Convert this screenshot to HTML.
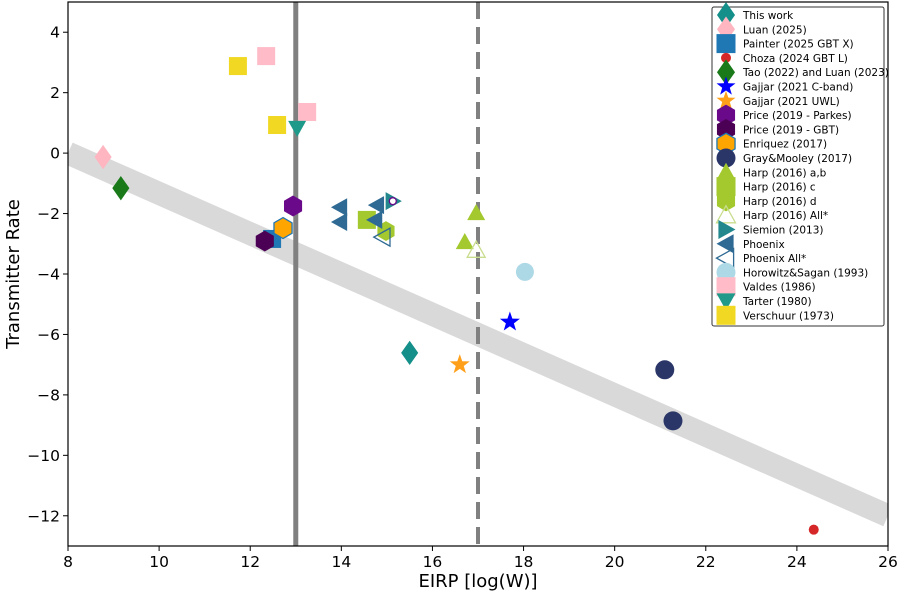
<!DOCTYPE html>
<html><head><meta charset="utf-8"><style>
body{margin:0;background:#fff;font-family:"Liberation Sans","DejaVu Sans",sans-serif}
svg text{font-family:"DejaVu Sans","Liberation Sans",sans-serif}
</style></head><body>
<svg id="chart" width="900" height="594" xmlns="http://www.w3.org/2000/svg"></svg>
<script>
const xTicks=[8,10,12,14,16,18,20,22,24,26];
const yTicks=[4,2,0,-2,-4,-6,-8,-10,-12];
const thisWorkX=[15.5], thisWorkY=[-6.61];
const luanX=[8.77], luanY=[-0.13];
const painterX=[12.48], painterY=[-2.84];
const chozaX=[24.37], chozaY=[-12.46];
const taoX=[9.16], taoY=[-1.16];
const gajjarCX=[17.7], gajjarCY=[-5.59];
const gajjarUX=[16.6], gajjarUY=[-7.0];
const priceParkesX=[12.94], priceParkesY=[-1.75];
const priceGbtX=[12.32], priceGbtY=[-2.91];
const enriquezX=[12.72], enriquezY=[-2.48];
const grayX=[21.1,21.28], grayY=[-7.17,-8.86];
const harpAbX=[16.96,16.71], harpAbY=[-1.98,-2.94];
const harpCX=[14.56], harpCY=[-2.21];
const harpDX=[14.98], harpDY=[-2.58];
const harpAllX=[16.96], harpAllY=[-3.21];
const siemionX=[15.13], siemionY=[-1.59];
const phoenixX=[13.97,13.97,14.78,14.74], phoenixY=[-1.79,-2.28,-1.72,-2.21];
const phoenixAllX=[14.91], phoenixAllY=[-2.78];
const horowitzX=[18.03], horowitzY=[-3.93];
const valdesX=[12.35,13.25], valdesY=[3.21,1.36];
const tarterX=[13.03], tarterY=[0.83];
const verschuurX=[11.73,12.59], verschuurY=[2.88,0.93];
const fitX=[8,26], fitY=[0.0,-12.0];
const vlineX=[13,17];

const L=68,R=888,T=2,B=546,XMIN=8,XMAX=26,YMIN=-13,YMAX=5;
const sx=v=>L+(v-XMIN)/(XMAX-XMIN)*(R-L);
const sy=v=>B-(v-YMIN)/(YMAX-YMIN)*(B-T);
const svg=document.getElementById('chart');
const NS='http://www.w3.org/2000/svg';
function el(tag,attrs,parent){const e=document.createElementNS(NS,tag);for(const k in attrs)e.setAttribute(k,attrs[k]);(parent||svg).appendChild(e);return e;}

const defs=el('defs',{});const cp=el('clipPath',{id:'clip'},defs);el('rect',{x:L,y:T,width:R-L,height:B-T},cp);
const plot=el('g',{'clip-path':'url(#clip)'});



const band=el('line',{x1:sx(fitX[0]),y1:sy(fitY[0]),x2:sx(fitX[1]),y2:sy(fitY[1]),stroke:'#d9d9d9',"stroke-width":23},plot);


const v1=el('line',{x1:sx(vlineX[0]),y1:T,x2:sx(vlineX[0]),y2:B,stroke:'#808080','stroke-width':5},plot);


const v2=el('line',{x1:sx(vlineX[1]),y1:T,x2:sx(vlineX[1]),y2:B,stroke:'#808080','stroke-width':4,'stroke-dasharray':'17,8'},plot);



function shape(type,cx,cy,s,fill,stroke,parent){
  const h=s/2;let p;
  const poly=pts=>el('polygon',{points:pts.map(q=>q.join(',')).join(' '),fill:fill,stroke:stroke||'none','stroke-width':1.3},parent);
  if(type==='diamond')p=poly([[cx,cy-h*1.35],[cx+h*0.95,cy],[cx,cy+h*1.35],[cx-h*0.95,cy]]);
  else if(type==='square')p=el('rect',{x:cx-h,y:cy-h,width:s,height:s,fill:fill,stroke:stroke||'none'},parent);
  else if(type==='circle')p=el('circle',{cx:cx,cy:cy,r:h,fill:fill,stroke:stroke||'none','stroke-width':1.3},parent);
  else if(type==='star'){const pts=[];for(let i=0;i<10;i++){const r=i%2?h*0.42:h*1.05;const a=-Math.PI/2+i*Math.PI/5;pts.push([cx+r*Math.cos(a),cy+r*Math.sin(a)]);}p=poly(pts);}
  else if(type==='hex'){const pts=[];for(let i=0;i<6;i++){const a=-Math.PI/2+i*Math.PI/3;pts.push([cx+h*1.1*Math.cos(a),cy+h*1.1*Math.sin(a)]);}p=poly(pts);}
  else if(type==='tup')p=poly([[cx,cy-h],[cx+h,cy+h*0.8],[cx-h,cy+h*0.8]]);
  else if(type==='tdown')p=poly([[cx,cy+h],[cx+h,cy-h*0.8],[cx-h,cy-h*0.8]]);
  else if(type==='tleft')p=poly([[cx-h,cy],[cx+h*0.8,cy-h],[cx+h*0.8,cy+h]]);
  else if(type==='tright')p=poly([[cx+h,cy],[cx-h*0.8,cy-h],[cx-h*0.8,cy+h]]);
  return p;
}
const series=[
 ['this-work','This work',thisWorkX,thisWorkY,'diamond',18,'#148f8a',null],
 ['luan-2025','Luan (2025)',luanX,luanY,'diamond',18,'#ffb6c1',null],
 ['painter','Painter (2025 GBT X)',painterX,painterY,'square',18,'#1f77b4',null],
 ['choza','Choza (2024 GBT L)',chozaX,chozaY,'circle',10,'#d62728',null],
 ['tao-luan','Tao (2022) and Luan (2023)',taoX,taoY,'diamond',18,'#1a7a1a',null],
 ['gajjar-c','Gajjar (2021 C-band)',gajjarCX,gajjarCY,'star',20,'#0000ff',null],
 ['gajjar-uwl','Gajjar (2021 UWL)',gajjarUX,gajjarUY,'star',20,'#ff9f1a',null],
 ['price-parkes','Price (2019 - Parkes)',priceParkesX,priceParkesY,'hex',19,'#6a0a8a',null],
 ['price-gbt','Price (2019 - GBT)',priceGbtX,priceGbtY,'hex',19,'#4b0055',null],
 ['enriquez','Enriquez (2017)',enriquezX,enriquezY,'hex',19,'#ffa500','#1f77b4'],
 ['gray-mooley','Gray&Mooley (2017)',grayX,grayY,'circle',19,'#2b3668',null],
 ['harp-ab','Harp (2016) a,b',harpAbX,harpAbY,'tup',18,'#a3c92e',null],
 ['harp-c','Harp (2016) c',harpCX,harpCY,'square',18,'#a3c92e',null],
 ['harp-d','Harp (2016) d',harpDX,harpDY,'hex',18,'#a3c92e',null],
 ['harp-all','Harp (2016) All*',harpAllX,harpAllY,'tup',18,'none','#c9dd8f'],
 ['siemion','Siemion (2013)',siemionX,siemionY,'tright',18,'#23878e',null],
 ['phoenix','Phoenix',phoenixX,phoenixY,'tleft',18,'#2e6a93',null],
 ['phoenix-all','Phoenix All*',phoenixAllX,phoenixAllY,'tleft',18,'none','#2e6a93'],
 ['horowitz-sagan','Horowitz&Sagan (1993)',horowitzX,horowitzY,'circle',18,'#add8e6',null],
 ['valdes','Valdes (1986)',valdesX,valdesY,'square',18,'#ffbcc8',null],
 ['tarter','Tarter (1980)',tarterX,tarterY,'tdown',18,'#1f9a8a',null],
 ['verschuur','Verschuur (1973)',verschuurX,verschuurY,'square',18,'#f0d823',null],
];
series.forEach(s=>{
  const g=el('g',{},plot);
  
  
  s[2].forEach((x,i)=>{
    const m=shape(s[4],sx(x),sy(s[3][i]),s[5],s[6],s[7],g);
    
    
  });
});
const dot=el('circle',{cx:sx(siemionX[0]),cy:sy(siemionY[0]),r:3.5,fill:'#fff',stroke:'#6a0a8a','stroke-width':1.3},plot);



const fr=el('rect',{x:L,y:T,width:R-L,height:B-T,fill:'none',stroke:'#000','stroke-width':1.2});


xTicks.forEach(t=>{
  el('line',{x1:sx(t),y1:B,x2:sx(t),y2:B+5,stroke:'#000'});
  const tx=el('text',{x:sx(t),y:B+21,'text-anchor':'middle','font-size':15.5});tx.textContent=t;
  
  
});
yTicks.forEach(t=>{
  el('line',{x1:L-5,y1:sy(t),x2:L,y2:sy(t),stroke:'#000'});
  const tx=el('text',{x:L-8,y:sy(t)+5.5,'text-anchor':'end','font-size':15.5});tx.textContent=(t<0?'\u2212'+(-t):t);
  
  
});
const xl=el('text',{x:(L+R)/2,y:587,'text-anchor':'middle','font-size':18});xl.textContent='EIRP [log(W)]';


const yl=el('text',{x:0,y:0,'text-anchor':'middle','font-size':18,transform:'translate(19,'+((T+B)/2)+') rotate(-90)'});yl.textContent='Transmitter Rate';



const lg=el('g',{});


el('rect',{x:712,y:7,width:172,height:319,fill:'#fff',stroke:'#333','stroke-width':1,rx:2},lg);
series.forEach((s,i)=>{
  const cy=15+i*14.3;
  const e=el('g',{},lg);
  
  
  shape(s[4],726,cy,s[4]==='circle'&&s[5]<12?10:19,s[6],s[7],e);
  const t=el('text',{x:743,y:cy+4,'font-size':10.5},e);t.textContent=s[1];
});
</script>
</body></html>
